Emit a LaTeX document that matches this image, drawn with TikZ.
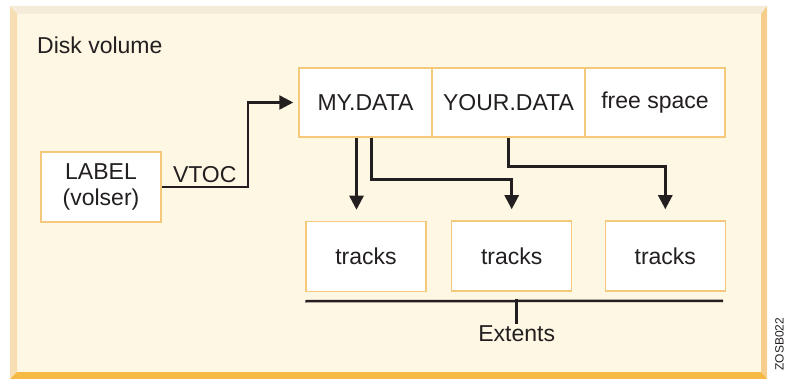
\documentclass[tikz,border=0pt]{standalone}
\usepackage{fontspec}
\setmainfont{Liberation Sans}
\usetikzlibrary{arrows.meta}
\definecolor{paneFill}{HTML}{FEF7E3}
\definecolor{bevelTop}{HTML}{F4EBD8}
\definecolor{bevelLeft}{HTML}{F6DDB2}
\definecolor{bevelRight}{HTML}{F5CE8C}
\definecolor{bevelBottom}{HTML}{F5BA43}
\definecolor{boxEdge}{HTML}{F5C97C}
\definecolor{inkDark}{HTML}{231F20}

\begin{document}
\begin{tikzpicture}
[x=1pt,y=-1pt,
  boxDecorate/.style={draw=boxEdge,line width=1.5pt,fill=white,inner sep=0pt,
    text=inkDark,font=\fontsize{23}{26}\selectfont},%
  lineDecorate/.style={draw=inkDark,line width=2.5pt},%
  arrowDecorate/.style={lineDecorate,-{Triangle[width=14pt,length=14pt]}}]
\useasboundingbox (0,0) rectangle (786,379);
%% frame of the volume
\fill[paneFill] (17,14) rectangle (761,372);
\fill[bevelTop] (10,6) -- (767,6) -- (761,14) -- (17,14) -- cycle;
\fill[bevelLeft] (10,6) -- (17,14) -- (17,372) -- (10,379) -- cycle;
\fill[bevelRight] (767,6) -- (767,379) -- (761,372) -- (761,14) -- cycle;
\fill[bevelBottom] (10,379) -- (767,379) -- (761,372) -- (17,372) -- cycle;
\node[anchor=base west,inner sep=0pt,text=inkDark,font=\fontsize{23}{26}\selectfont]
  (title) at (37,54) {Disk volume};
\node[rotate=90,inner sep=0pt,text=inkDark,font=\fontsize{12}{14}\selectfont]
  (figid) at (779.5,344) {ZOSB022};
%% label and data sets
\node (label) at (101,187) [boxDecorate,minimum width=120pt,minimum height=70pt,
  align=center] {LABEL\\(volser)};
\node (mydata) at (365.5,102.5) [boxDecorate,minimum width=133pt,minimum height=69pt] {MY.DATA};
\node (yourdata) at (508.5,102.5) [boxDecorate,minimum width=153pt,minimum height=69pt] {YOUR.DATA};
\node (freespace) at (655,102.5) [boxDecorate,minimum width=140pt,minimum height=69pt] {free space};
%% tracks
\foreach \nodename/\x/\y in {trackA/366/256.5, trackB/511.7/256, trackC/665.3/256}
{
  \node (\nodename) at (\x,\y) [boxDecorate,minimum width=120pt,minimum height=70pt] {tracks};
}
%% connectors
\draw[arrowDecorate,shorten >=5pt] (label.east) -- ++(86,0)
  node[midway,above,inner sep=3pt,text=inkDark,font=\fontsize{23}{26}\selectfont] (vtoc) {VTOC}
  |- (mydata.west);
\draw[arrowDecorate,shorten >=11pt] ([xshift=-9pt]mydata.south) -- ([xshift=-9pt]mydata.south |- trackA.north);
\draw[arrowDecorate,shorten >=11pt] ([xshift=6pt]mydata.south) -- ++(0,42) -| (trackB.north);
\draw[arrowDecorate,shorten >=11pt] (yourdata.south) -- ++(0,29) -| (trackC.north);
%% extents
\node (extents) at (516.7,334) [inner sep=0pt,text=inkDark,font=\fontsize{23}{26}\selectfont] {Extents};
\coordinate (extleft) at ([yshift=-9pt]trackA.south west);
\coordinate (extright) at ([xshift=-3pt,yshift=-9pt]trackC.south east);
\draw[lineDecorate] (extleft) -- (extright);
\draw[lineDecorate] ([yshift=2pt]extents.north) -- ([yshift=2pt]extents.north |- extleft);
\end{tikzpicture}
\end{document}
